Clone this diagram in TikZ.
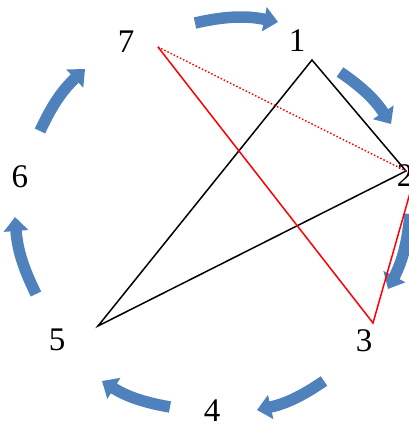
\documentclass[tikz,border=0pt]{standalone}
\usepackage{fontspec}
\setmainfont{Liberation Serif}
\usetikzlibrary{arrows.meta}
\definecolor{arrowblue}{RGB}{79,129,189}
\begin{document}
\begin{tikzpicture}[x=1pt,y=-1pt,
  lbl/.style={inner sep=0pt, font=\fontsize{33}{33}\selectfont},
  edge/.style={line width=1.5pt, line join=miter},
  cyc/.style={draw=arrowblue, line width=11.5pt, -{Triangle[width=24pt,length=14pt]}},
]
\useasboundingbox (0,0) rectangle (409,424);
\clip (0,0) rectangle (409,424);
% labels
\node[lbl] (n7) at (126,42) {7};
\node[lbl] (n1) at (297,41) {1};
\node[lbl] (n2) at (405,176) {2};
\node[lbl] (n3) at (364,341) {3};
\node[lbl] (n4) at (212,411) {4};
\node[lbl] (n5) at (57,340) {5};
\node[lbl] (n6) at (20,177) {6};
% vertices
\coordinate (p7) at (158,47);
\coordinate (p1) at (312,60);
\coordinate (p2) at (406,171);
\coordinate (p3) at (373,323);
\coordinate (p5) at (98,326);
\coordinate (r2) at (416,172);
% cycle arrows
\coordinate (a1s) at (195,23);  \coordinate (a1e) at (278,22);
\coordinate (a2s) at (340,72);  \coordinate (a2e) at (391,124);
\coordinate (a3s) at (410,214); \coordinate (a3e) at (388,289);
\coordinate (a4s) at (324,381); \coordinate (a4e) at (257,410);
\coordinate (a5s) at (170,407); \coordinate (a5e) at (102,381);
\coordinate (a6s) at (36,294);  \coordinate (a6e) at (15,217);
\coordinate (a7s) at (40,131);  \coordinate (a7e) at (85,69);
\draw[cyc] (a1s) to[bend left=12] (a1e);
\draw[cyc] (a2s) to[bend left=11] (a2e);
\draw[cyc] (a3s) to[bend left=11] (a3e);
\draw[cyc] (a4s) to[bend left=11] (a4e);
\draw[cyc] (a5s) to[bend left=11] (a5e);
\draw[cyc] (a6s) to[bend left=11] (a6e);
\draw[cyc] (a7s) to[bend left=11] (a7e);
% edges
\draw[edge, black] (p5) -- (p1) -- (p2) -- cycle;
\draw[edge, red] (p7) -- (p3) -- (r2);
\draw[red, line width=1.5pt, dash pattern=on 1.5pt off 2pt] (p7) -- (p2);
\end{tikzpicture}
\end{document}
